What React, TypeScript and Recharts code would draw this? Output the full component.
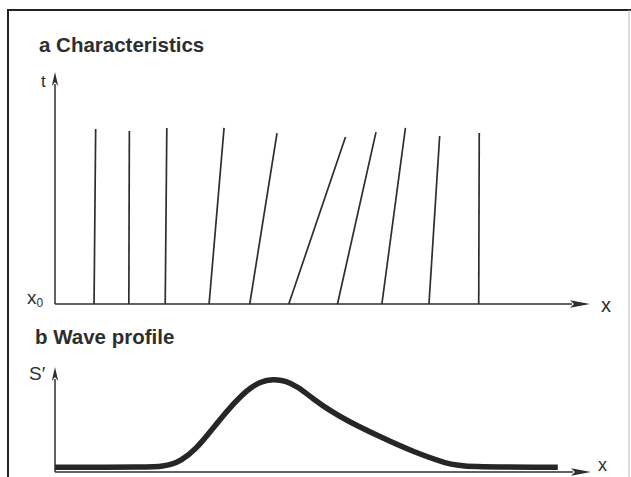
import React from "react";
import { LineChart, Line, XAxis, YAxis, ReferenceLine } from "recharts";

// Panel a: characteristics (foot on x-axis at t=0, top end of each line)
const charFootX = [0.73, 1.38, 2.06, 2.88, 3.64, 4.37, 5.28, 6.11, 6.99, 7.92];
const charTopX = [0.76, 1.39, 2.09, 3.16, 4.15, 5.43, 6.0, 6.55, 7.19, 7.93];
const charTopT = [7.54, 7.46, 7.59, 7.59, 7.37, 7.2, 7.41, 7.59, 7.24, 7.37];

// Panel b: wave profile S'(x)
const profileX = [0, 1.78, 2.02, 2.19, 2.34, 2.62, 2.95, 3.27, 3.59, 3.83, 4.07, 4.3, 4.52, 4.82, 5.14, 5.46, 6.07, 6.69, 7.33, 7.63, 9.38];
const profileS = [0.45, 0.45, 0.55, 0.76, 1.05, 2.1, 4.19, 6.19, 7.85, 8.62, 8.85, 8.7, 8.15, 6.95, 5.81, 4.86, 3.33, 1.9, 0.76, 0.48, 0.45];

const titleA = "a Characteristics";
const titleB = "b Wave profile";

const INK = "#2e2e2e";
const FONT = "'Liberation Sans', Arial, Helvetica, sans-serif";

const charLines = charFootX.map((fx, i) => [
  { x: fx, t: 0 },
  { x: charTopX[i], t: charTopT[i] },
]);
const profileData = profileX.map((x, i) => ({ x, s: profileS[i] }));

const makeArrow = (headLen: number, headHalf: number, sw: number) => (props: any) => {
  const { x1, y1, x2, y2 } = props;
  const dx = x2 - x1;
  const dy = y2 - y1;
  const len = Math.sqrt(dx * dx + dy * dy) || 1;
  const ux = dx / len;
  const uy = dy / len;
  const bx = x2 - ux * headLen;
  const by = y2 - uy * headLen;
  const px = -uy * headHalf;
  const py = ux * headHalf;
  return (
    <g>
      <line x1={x1} y1={y1} x2={bx + ux * 2} y2={by + uy * 2} stroke={INK} strokeWidth={sw} />
      <polygon
        points={`${x2},${y2} ${bx + px},${by + py} ${bx + ux * 4},${by + uy * 4} ${bx - px},${by - py}`}
        fill={INK}
      />
    </g>
  );
};

const xArrow = makeArrow(20, 3.8, 1.5);
const yArrow = makeArrow(14, 3.2, 1.5);

export default function App() {
  return (
    <div style={{ position: "absolute", left: 0, top: 0, width: 631, height: 477, background: "#fff", overflow: "hidden" }}>
      <div style={{ position: "absolute", left: 0, top: 0 }}>
        <LineChart width={631} height={310} margin={{ top: 72, right: 41, bottom: 6, left: 55 }}>
          <XAxis type="number" dataKey="x" domain={[0, 10]} hide />
          <YAxis type="number" dataKey="t" domain={[0, 10]} hide />
          <ReferenceLine segment={[{ x: 0, y: 0 }, { x: 10, y: 0 }]} shape={xArrow} ifOverflow="visible" />
          <ReferenceLine segment={[{ x: 0, y: 0 }, { x: 0, y: 10 }]} shape={yArrow} ifOverflow="visible" />
          {charLines.map((d, i) => (
            <Line
              key={i}
              data={d}
              dataKey="t"
              type="linear"
              stroke={INK}
              strokeWidth={1.7}
              dot={false}
              activeDot={false}
              isAnimationActive={false}
            />
          ))}
        </LineChart>
      </div>
      <div style={{ position: "absolute", left: 0, top: 310 }}>
        <LineChart width={631} height={167} margin={{ top: 57, right: 40, bottom: 5, left: 55 }}>
          <XAxis type="number" dataKey="x" domain={[0, 10]} hide />
          <YAxis type="number" dataKey="s" domain={[0, 10]} hide />
          <ReferenceLine segment={[{ x: 0, y: 0 }, { x: 10, y: 0 }]} shape={xArrow} ifOverflow="visible" />
          <ReferenceLine segment={[{ x: 0, y: 0 }, { x: 0, y: 10 }]} shape={yArrow} ifOverflow="visible" />
          <Line
            data={profileData}
            dataKey="s"
            type="basis"
            stroke="#262626"
            strokeWidth={5.5}
            dot={false}
            activeDot={false}
            isAnimationActive={false}
          />
        </LineChart>
      </div>
      <svg
        width={631}
        height={477}
        style={{ position: "absolute", left: 0, top: 0, pointerEvents: "none" }}
        fontFamily={FONT}
      >
        <line x1={8} y1={10} x2={631} y2={10} stroke="#222" strokeWidth={2} />
        <line x1={8} y1={9} x2={8} y2={477} stroke="#222" strokeWidth={2} />
        <line x1={629} y1={10} x2={629} y2={477} stroke="#bbb" strokeWidth={1} />
        <text x={39} y={52} fontSize={20.5} fontWeight="bold" fill={INK}>{titleA}</text>
        <text x={35} y={344} fontSize={20.5} fontWeight="bold" fill={INK}>{titleB}</text>
        <text x={41} y={87} fontSize={17} fill={INK}>t</text>
        <text x={27} y={304} fontSize={19} fill={INK}>
          x<tspan fontSize={12} dy={3}>0</tspan>
        </text>
        <text x={601} y={312} fontSize={20} fill={INK}>x</text>
        <text x={598} y={471} fontSize={18} fill={INK}>x</text>
        <text x={29} y={380} fontSize={19} fill={INK}>S′</text>
      </svg>
    </div>
  );
}
